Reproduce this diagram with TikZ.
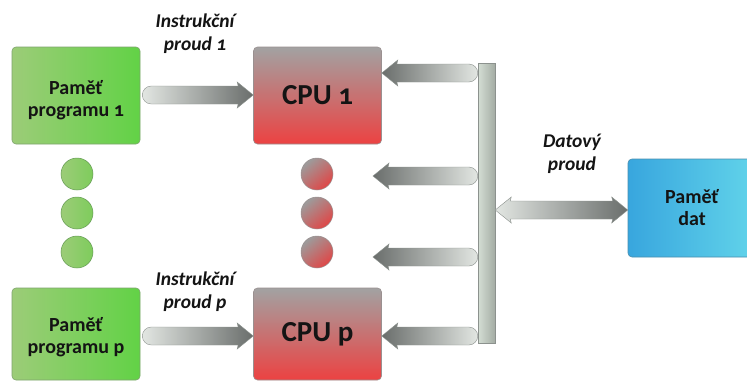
\documentclass[tikz,border=0pt]{standalone}
\usepackage{fontspec}
\setmainfont{Carlito}[Numbers=OldStyle]
\usetikzlibrary{calc}
\definecolor{gL}{HTML}{9CCC78}
\definecolor{gR}{HTML}{62D246}
\definecolor{gB}{HTML}{7FA46E}
\definecolor{cT}{HTML}{A2A2A2}
\definecolor{cBt}{HTML}{EC4242}
\definecolor{cB}{HTML}{9A9090}
\definecolor{bL}{HTML}{38A6DE}
\definecolor{bR}{HTML}{62D4EA}
\definecolor{bB}{HTML}{4A8EAE}
\definecolor{aL}{HTML}{E2E6E2}
\definecolor{aD}{HTML}{6A6E6C}
\definecolor{aB}{HTML}{8C928E}
\definecolor{busL}{HTML}{D4DED4}
\definecolor{busR}{HTML}{A4ACA4}
\definecolor{txt}{HTML}{141414}
\definecolor{gc}{HTML}{7ECC5C}
\definecolor{gcB}{HTML}{649A54}
\definecolor{rcG}{HTML}{9C9C9C}
\definecolor{rcR}{HTML}{E04646}
\tikzset{
  boxbase/.style={rectangle, rounded corners=4pt, minimum width=128pt, inner sep=0pt, line width=0.6pt},
  gbox/.style={boxbase, left color=gL, right color=gR, draw=gB},
  cpubox/.style={boxbase, top color=cT, bottom color=cBt, draw=cB, font=\bfseries\fontsize{29}{32}\selectfont, text=txt},
  membox/.style={boxbase, left color=bL, right color=bR, draw=bB},
  boxtext/.style={font=\bfseries\fontsize{20}{22}\selectfont, text=txt, align=center},
  flowlabel/.style={font=\bfseries\itshape\fontsize{19.5}{23}\selectfont, text=txt, align=center},
  busbar/.style={rectangle, minimum width=17pt, minimum height=280pt, inner sep=0pt, left color=busL, right color=busR, draw=aB, line width=0.5pt},
  arrowR/.style={left color=aL, right color=aD, draw=aB, line width=0.4pt},
  arrowL/.style={left color=aD, right color=aL, draw=aB, line width=0.4pt},
  gdot/.style={circle, minimum size=32pt, inner sep=0pt, left color=gL, right color=gc, draw=gcB, line width=0.5pt},
  rdot/.style={circle, minimum size=32pt, inner sep=0pt, top color=rcG, bottom color=rcR, shading angle=40, draw=cB, line width=0.5pt},
}
% right-pointing fat arrow: #1 tail, #2 tip
\newcommand\fatR[2]{%
  \shadedraw[arrowR] let \p1=#1, \p2=#2 in
  ({\x1+9},{\y1+9}) -- ({\x2-15},{\y1+9}) -- ({\x2-16},{\y1+13}) -- (\x2,\y1)
  -- ({\x2-16},{\y1-13}) -- ({\x2-15},{\y1-9}) -- ({\x1+9},{\y1-9})
  arc[start angle=270, end angle=90, radius=9pt] -- cycle;}
% left-pointing fat arrow: #1 tail, #2 tip
\newcommand\fatL[2]{%
  \shadedraw[arrowL] let \p1=#1, \p2=#2 in
  ({\x1-9},{\y1+9}) -- ({\x2+15},{\y1+9}) -- ({\x2+16},{\y1+13}) -- (\x2,\y1)
  -- ({\x2+16},{\y1-13}) -- ({\x2+15},{\y1-9}) -- ({\x1-9},{\y1-9})
  arc[start angle=-90, end angle=90, radius=9pt] -- cycle;}
% double fat arrow: #1 left tip, #2 right tip
\newcommand\fatLR[2]{%
  \shadedraw[arrowR] let \p1=#1, \p2=#2 in
  (\x1,\y1) -- ({\x1+16},{\y1+13}) -- ({\x1+15},{\y1+9}) -- ({\x2-15},{\y1+9})
  -- ({\x2-16},{\y1+13}) -- (\x2,\y1) -- ({\x2-16},{\y1-13}) -- ({\x2-15},{\y1-9})
  -- ({\x1+15},{\y1-9}) -- ({\x1+16},{\y1-13}) -- cycle;}
\begin{document}
\begin{tikzpicture}[x=1pt,y=1pt]
\useasboundingbox[fill=white] (0,0) rectangle (747,-383);

% boxes
\node[gbox, minimum height=97pt, label={[boxtext, yshift=-5pt]center:{Paměť\\programu 1}}] (pm1) at (76,-95.5) {};
\node[gbox, minimum height=92pt, label={[boxtext, yshift=-3pt]center:{Paměť\\programu p}}] (pmp) at (76,-334) {};
\node[cpubox, minimum height=97pt] (cpu1) at (317.5,-95.5) {CPU 1};
\node[cpubox, minimum height=92pt] (cpup) at (317.5,-334) {CPU p};
\node[membox, minimum height=98pt, label={[boxtext]center:{Paměť\\dat}}] (mem) at (692,-208) {};
\node[busbar] (bus) at (486.5,-203) {};

% dots
\node[gdot] (g1) at (77,-174) {};
\node[gdot] (g2) at (77,-213) {};
\node[gdot] (g3) at (77,-252) {};
\node[rdot] (r1) at (317,-174) {};
\node[rdot] (r2) at (317,-213) {};
\node[rdot] (r3) at (317,-252) {};

% labels
\node[flowlabel] (l1) at (195,-34) {Instrukční\\proud 1};
\node[flowlabel] (lp) at (195,-292) {Instrukční\\proud p};
\node[flowlabel] (ld) at (572,-154) {Datový\\proud};

% helper heights
\coordinate (y1) at (0,-95);
\coordinate (yp) at (0,-336);
\coordinate (ya) at (0,-73);
\coordinate (yb) at (0,-176);
\coordinate (yc) at (0,-257);
\coordinate (yd) at (0,-336);
\coordinate (ym) at (0,-210);
\coordinate (t2) at (373,-176);
\coordinate (t3) at (373,-257);

% instruction streams
\fatR{([xshift=2pt]pm1.east |- y1)}{(cpu1.west |- y1)}
\fatR{([xshift=2pt]pmp.east |- yp)}{(cpup.west |- yp)}

% data streams
\fatL{(bus.west |- ya)}{(cpu1.east |- ya)}
\fatL{(bus.west |- yb)}{(t2)}
\fatL{(bus.west |- yc)}{(t3)}
\fatL{(bus.west |- yd)}{(cpup.east |- yd)}
\fatLR{(bus.east |- ym)}{(mem.west |- ym)}
\end{tikzpicture}
\end{document}
